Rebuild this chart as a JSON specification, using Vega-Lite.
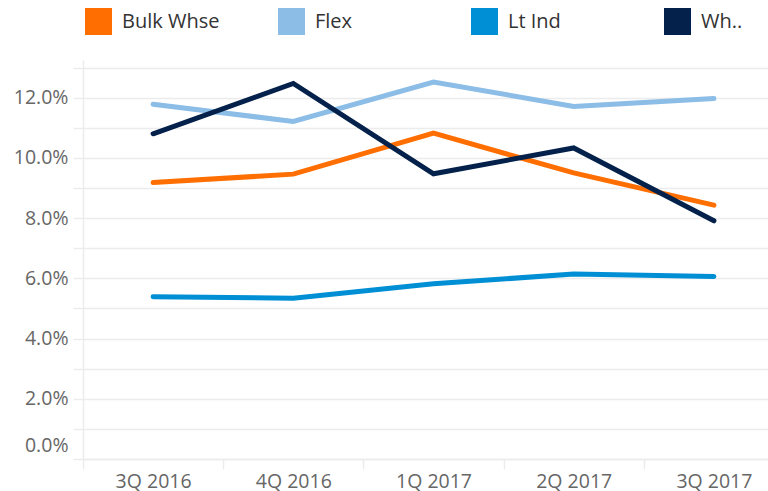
{
  "$schema": "https://vega.github.io/schema/vega-lite/v6.json",
  "autosize": "none",
  "width": 685,
  "height": 399,
  "padding": {"left": 83, "top": 60, "right": 0, "bottom": 32},
  "background": "white",
  "config": {
    "view": {"stroke": null},
    "font": "Open Sans"
  },
  "data": {
    "values": [
      {"quarter": "3Q 2016", "series": "Bulk Whse", "rate": 9.18},
      {"quarter": "4Q 2016", "series": "Bulk Whse", "rate": 9.46},
      {"quarter": "1Q 2017", "series": "Bulk Whse", "rate": 10.82},
      {"quarter": "2Q 2017", "series": "Bulk Whse", "rate": 9.5},
      {"quarter": "3Q 2017", "series": "Bulk Whse", "rate": 8.43},
      {"quarter": "3Q 2016", "series": "Flex", "rate": 11.78},
      {"quarter": "4Q 2016", "series": "Flex", "rate": 11.21},
      {"quarter": "1Q 2017", "series": "Flex", "rate": 12.52},
      {"quarter": "2Q 2017", "series": "Flex", "rate": 11.71},
      {"quarter": "3Q 2017", "series": "Flex", "rate": 11.97},
      {"quarter": "3Q 2016", "series": "Lt Ind", "rate": 5.39},
      {"quarter": "4Q 2016", "series": "Lt Ind", "rate": 5.34},
      {"quarter": "1Q 2017", "series": "Lt Ind", "rate": 5.82},
      {"quarter": "2Q 2017", "series": "Lt Ind", "rate": 6.14},
      {"quarter": "3Q 2017", "series": "Lt Ind", "rate": 6.06},
      {"quarter": "3Q 2016", "series": "Wh..", "rate": 10.8},
      {"quarter": "4Q 2016", "series": "Wh..", "rate": 12.47},
      {"quarter": "1Q 2017", "series": "Wh..", "rate": 9.47},
      {"quarter": "2Q 2017", "series": "Wh..", "rate": 10.33},
      {"quarter": "3Q 2017", "series": "Wh..", "rate": 7.91}
    ]
  },
  "mark": {"type": "line", "strokeWidth": 5, "strokeCap": "round", "strokeJoin": "miter"},
  "encoding": {
    "x": {
      "field": "quarter",
      "type": "nominal",
      "sort": ["3Q 2016", "4Q 2016", "1Q 2017", "2Q 2017", "3Q 2017"],
      "scale": {"type": "band", "range": [0, 701], "paddingInner": 0, "paddingOuter": 0},
      "axis": {
        "title": null,
        "labelAngle": 0,
        "labelFont": "Open Sans",
        "labelFontSize": 19.5,
        "labelColor": "#666666",
        "labelPadding": 3,
        "tickBand": "extent",
        "ticks": true,
        "tickSize": 10,
        "tickColor": "#ececec",
        "tickWidth": 1.5,
        "domain": true,
        "domainColor": "#ececec",
        "domainWidth": 1.5,
        "grid": false
      }
    },
    "y": {
      "field": "rate",
      "type": "quantitative",
      "scale": {"domain": [0, 13.25], "nice": false, "zero": true},
      "axis": {
        "title": null,
        "values": [0, 1, 2, 3, 4, 5, 6, 7, 8, 9, 10, 11, 12, 13],
        "labelExpr": "datum.value % 2 == 0 ? format(datum.value, '.1f') + '%' : ''",
        "labelFont": "Open Sans",
        "labelFontSize": 19.5,
        "labelColor": "#666666",
        "labelPadding": 5,
        "labelOffset": {"condition": {"test": "datum.value == 0", "value": -14}, "value": 0},
        "ticks": true,
        "tickSize": 10,
        "tickColor": "#ececec",
        "tickWidth": 1.5,
        "grid": true,
        "gridColor": "#ececec",
        "gridWidth": 1.5,
        "domain": true,
        "domainColor": "#ececec",
        "domainWidth": 1.5
      }
    },
    "color": {
      "field": "series",
      "type": "nominal",
      "scale": {
        "domain": ["Bulk Whse", "Flex", "Lt Ind", "Wh.."],
        "range": ["#ff6e00", "#8bbde6", "#008fd4", "#03214a"]
      },
      "legend": {
        "title": null,
        "orient": "none",
        "direction": "horizontal",
        "columns": 4,
        "legendX": 2,
        "legendY": -52,
        "gridAlign": "all",
        "columnPadding": 58,
        "symbolType": "square",
        "symbolSize": 729,
        "symbolStrokeWidth": 0,
        "labelOffset": 10,
        "labelFont": "Open Sans",
        "labelFontSize": 20,
        "labelColor": "#333333",
        "labelLimit": 300,
        "encode": {
          "symbols": {
            "update": {
              "fill": {"scale": "color", "field": "value"},
              "strokeWidth": {"value": 0}
            }
          }
        }
      }
    }
  }
}
